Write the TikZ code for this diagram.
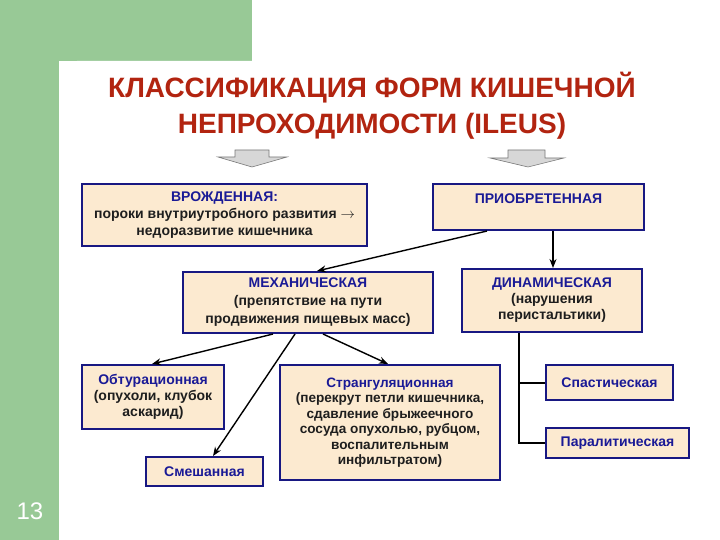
\documentclass[tikz,border=0pt]{standalone}
\usepackage{fontspec}
\setmainfont{Liberation Sans}
\usetikzlibrary{arrows.meta,calc}
\definecolor{bggreen}{RGB}{152,201,150}
\definecolor{titlered}{RGB}{178,36,16}
\definecolor{boxfill}{RGB}{252,234,208}
\definecolor{boxline}{RGB}{24,24,130}
\definecolor{headblue}{RGB}{26,26,150}
\definecolor{bodytext}{RGB}{30,30,30}
\definecolor{blkfill}{RGB}{215,215,215}
\definecolor{blkline}{RGB}{120,120,120}
\newcommand{\hd}[1]{\textcolor{headblue}{#1}}
\tikzset{
  box/.style={draw=boxline, line width=2pt, fill=boxfill, inner sep=2pt, align=center,
    font=\bfseries\fontsize{14}{17}\selectfont, text=bodytext},
  conn/.style={line width=1.4pt, -{Stealth[length=9pt,width=7pt]}},
  tree/.style={line width=2pt},
  blk/.style={fill=blkfill, draw=blkline, line width=0.6pt, line join=miter}
}
\begin{document}
\begin{tikzpicture}[x=1pt,y=-1pt]
\useasboundingbox (0,0) rectangle (720,540);
% background
\fill[bggreen] (0,0) rectangle (252,61);
\fill[bggreen] (0,0) rectangle (59,540);
\fill[white, rounded corners=18pt] (59,61) rectangle (760,580);
\node[text=white, font=\fontsize{24}{24}\selectfont] (pnum) at (30,511) {13};
% title
\node[font=\bfseries\fontsize{28}{36}\selectfont, text=titlered, align=center] (title) at (372,106)
  {КЛАССИФИКАЦИЯ ФОРМ КИШЕЧНОЙ\\НЕПРОХОДИМОСТИ (ILEUS)};
% block arrows
\draw[blk] (235,150) -- (269,150) -- (269,157) -- (287,157) -- (252,167) -- (218,157) -- (235,157) -- cycle;
\draw[blk] (508,150) -- (545,150) -- (545,158) -- (564,158) -- (528,167) -- (490,158) -- (508,158) -- cycle;
% boxes
\node[box, minimum width=285pt, minimum height=62pt] (vrozh) at (224.5,215)
  {\hd{ВРОЖДЕННАЯ:}\\пороки внутриутробного развития $\rightarrow$\\недоразвитие кишечника};
\node[box, minimum width=211pt, minimum height=46pt] (priobr) at (538.5,207)
  {\hd{ПРИОБРЕТЕННАЯ}\\\mbox{}};
\node[box, minimum width=250pt, minimum height=61pt, font=\bfseries\fontsize{14}{18}\selectfont] (mech) at (308,302.5)
  {\hd{МЕХАНИЧЕСКАЯ}\\(препятствие на пути\\продвижения пищевых масс)};
\node[box, minimum width=180pt, minimum height=63pt, font=\bfseries\fontsize{14}{16}\selectfont] (dyn) at (552,300.5)
  {\hd{ДИНАМИЧЕСКАЯ}\\(нарушения\\перистальтики)};
\node[box, minimum width=142pt, minimum height=64pt, font=\bfseries\fontsize{14}{16}\selectfont] (obtur) at (153,397)
  {\hd{Обтурационная}\\(опухоли, клубок\\аскарид)};
\node[box, minimum width=117pt, minimum height=29pt] (smesh) at (204.5,471.5)
  {\hd{Смешанная}};
\node[box, minimum width=220pt, minimum height=115pt, font=\bfseries\fontsize{13.6}{15.5}\selectfont] (strang) at (390,422.5)
  {\hd{Странгуляционная}\\(перекрут петли кишечника,\\сдавление брыжеечного\\сосуда опухолью, рубцом,\\воспалительным\\инфильтратом)};
\node[box, minimum width=127pt, minimum height=35pt] (spast) at (609.5,382.5)
  {\hd{Спастическая}};
\node[box, minimum width=143pt, minimum height=30pt] (paral) at (617.5,443)
  {\hd{Паралитическая}};
% connectors
\draw[conn] ([xshift=-51.5pt]priobr.south) -- ([xshift=9pt]mech.north);
\draw[conn] ([xshift=1pt]dyn.north |- priobr.south) -- ([xshift=1pt]dyn.north);
\draw[conn] ([xshift=-35pt]mech.south) -- ([xshift=-1pt]obtur.north);
\draw[conn] ([xshift=-13pt]mech.south) -- ([xshift=8.5pt]smesh.north);
\draw[conn] ([xshift=15pt]mech.south) -- ([xshift=-2pt]strang.north);
\draw[tree] ([xshift=-33pt]dyn.south) |- (paral.west);
\draw[tree] ([xshift=-33pt]dyn.south |- spast.west) -- (spast.west);
\end{tikzpicture}
\end{document}
